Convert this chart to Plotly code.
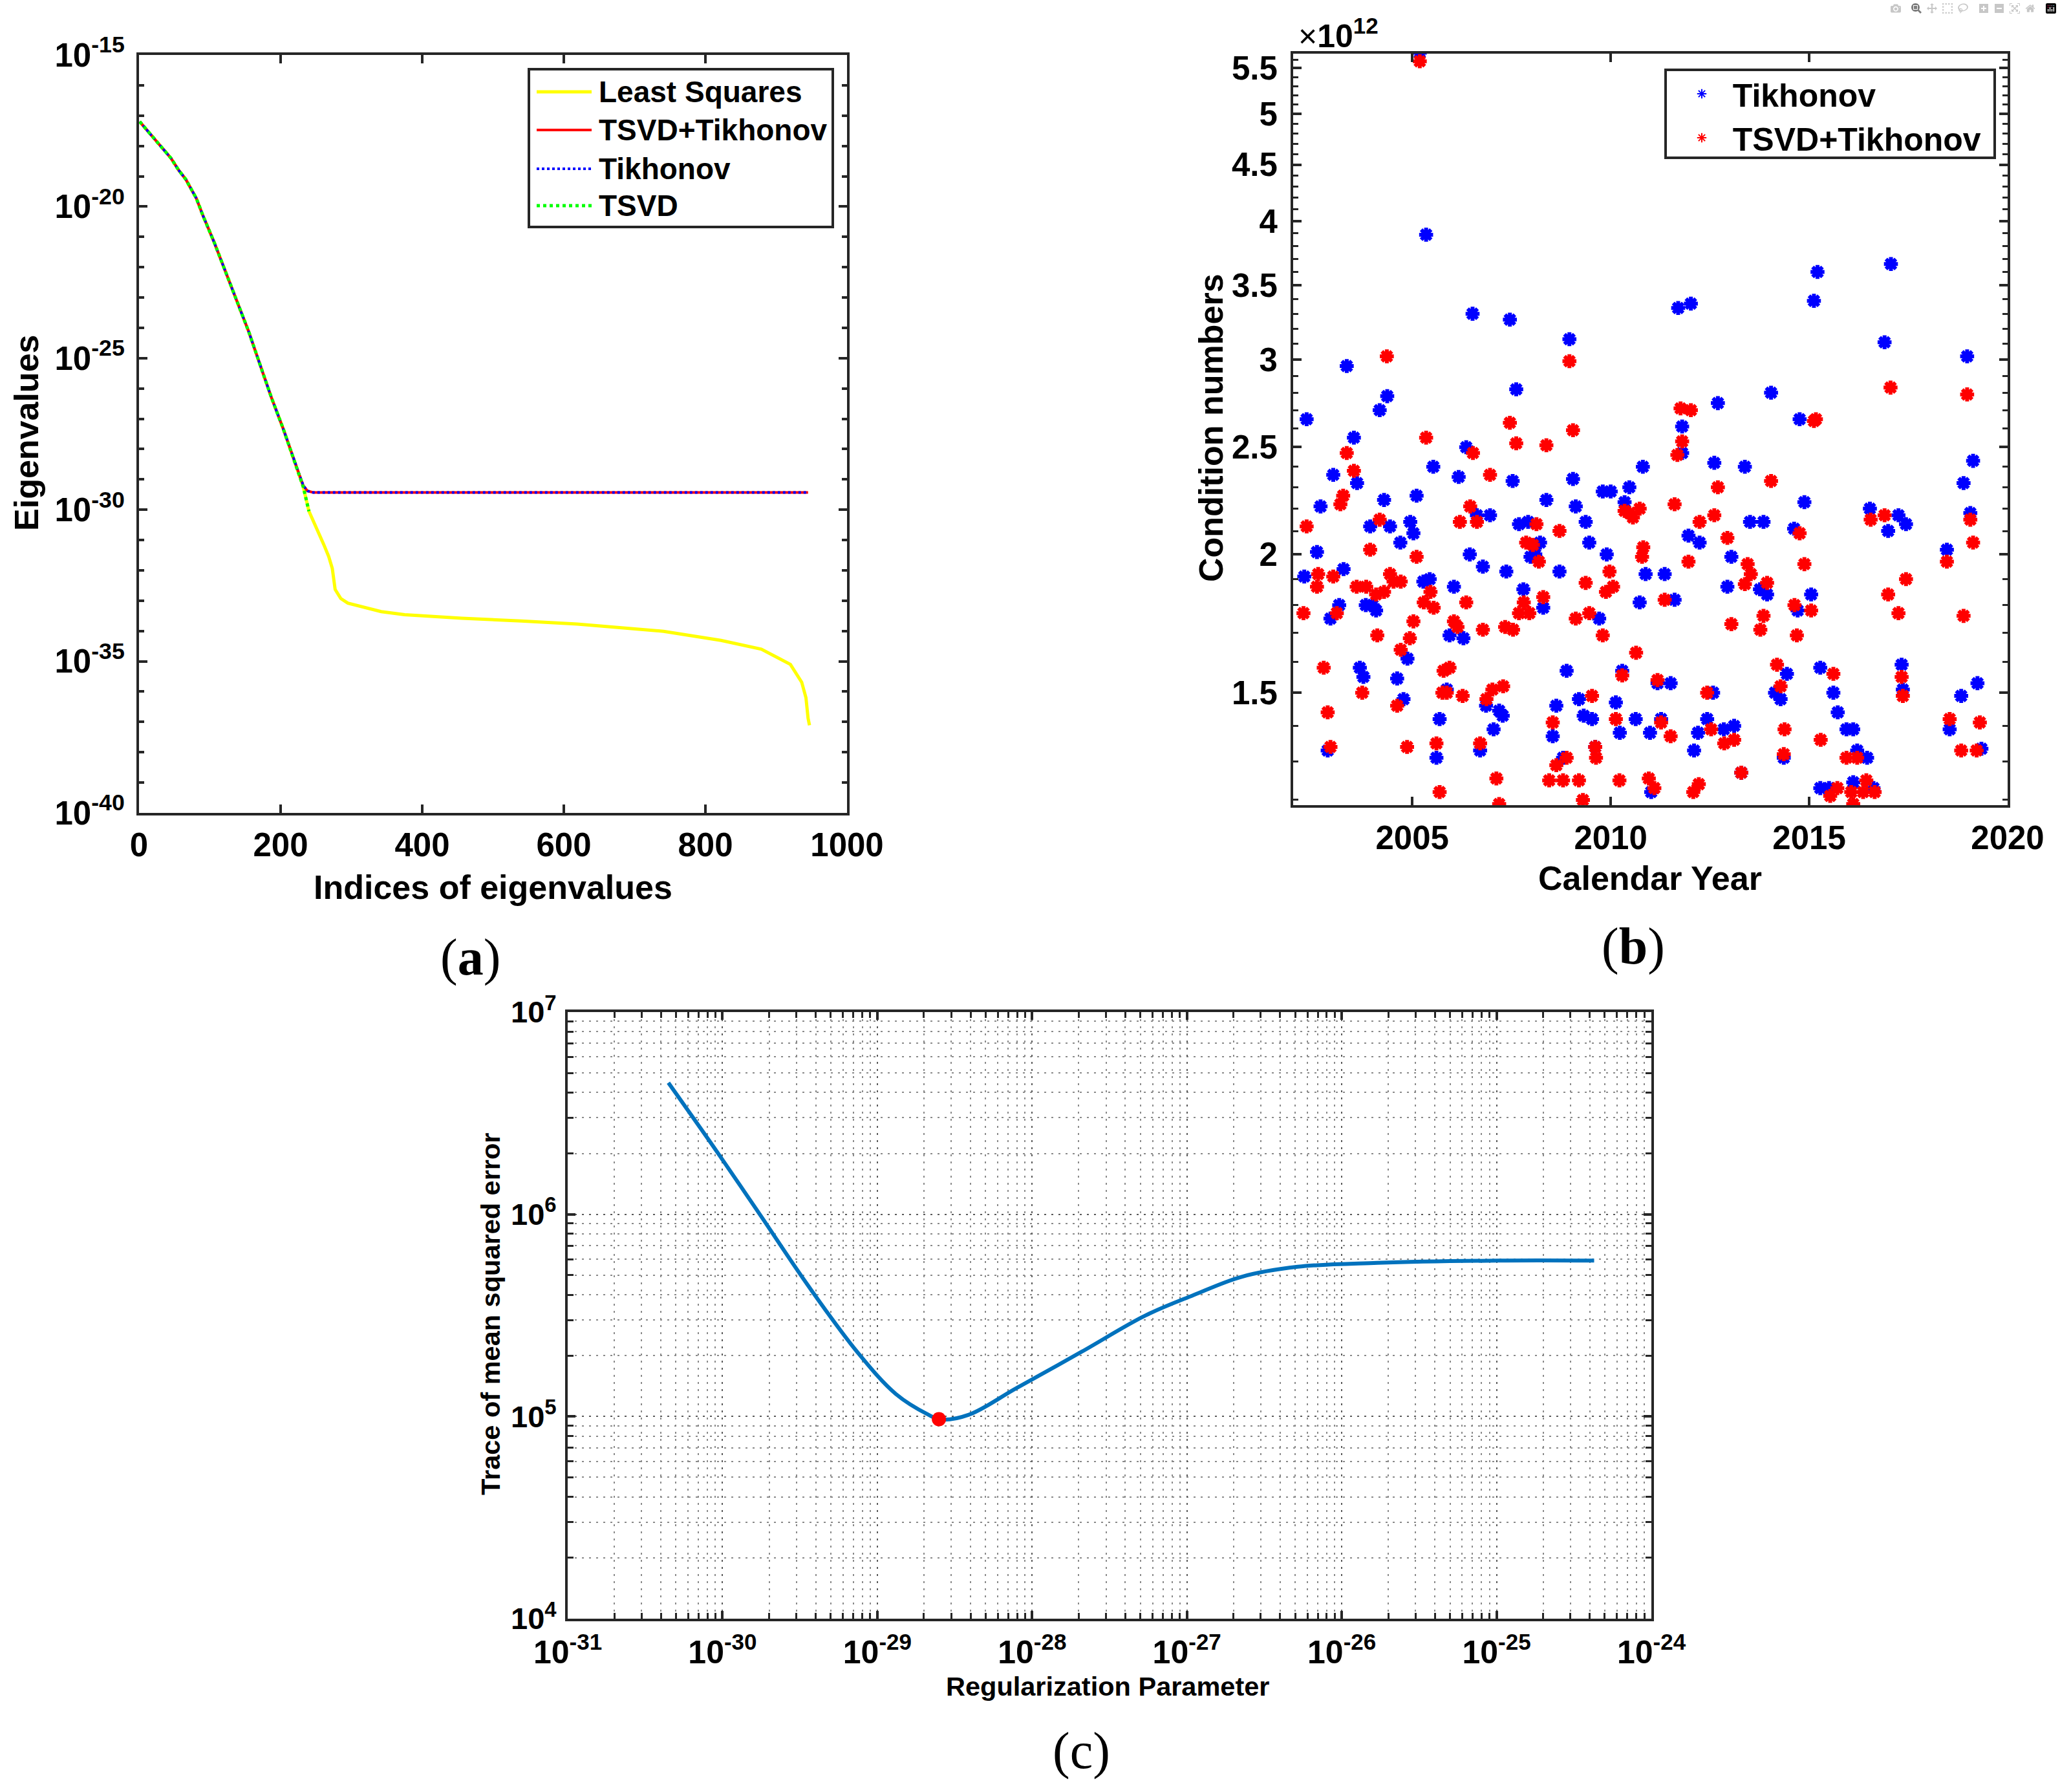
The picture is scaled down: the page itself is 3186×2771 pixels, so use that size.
import plotly.graph_objects as go

W, H = 3186, 2771
SANS = "Liberation Sans, Arial, sans-serif"
SERIF = "Liberation Serif, Times New Roman, serif"
INK = "#262626"

# ---------------- (a) eigenvalues (index, log10 value) ----------------
common_idx = [1, 26, 45, 56, 66, 81, 90, 106, 122, 138, 155, 171, 187, 204, 216, 224]
common_log = [-17.20, -17.88, -18.40, -18.80, -19.10, -19.73, -20.28, -21.17, -22.15,
              -23.14, -24.13, -25.22, -26.30, -27.35, -28.18, -28.68]

# Tikhonov and TSVD+Tikhonov level off
plateau_idx = [232, 238, 246, 945]
plateau_log = [-29.20, -29.38, -29.43, -29.43]

# TSVD stops at the truncation index
tsvd_idx = [232, 240]
tsvd_log = [-29.25, -30.05]

# plain least squares keeps falling
ls_idx = [232, 240, 250, 261, 268, 273, 277, 285, 295, 309, 342, 375, 456, 540,
          619, 741, 822, 879, 920, 936, 942, 945, 947]
ls_log = [-29.25, -30.05, -30.55, -31.15, -31.55, -31.94, -32.63, -32.93, -33.08, -33.16,
          -33.36, -33.46, -33.58, -33.67, -33.77, -34.01, -34.31, -34.60, -35.10, -35.69,
          -36.20, -36.88, -37.11]

# ---------------- (b) condition numbers (x 1e12) ----------------
tik_year = [2005.19, 2005.35, 2006.52, 2007.46, 2008.96, 2003.35, 2004.37, 2004.18, 2002.34, 2007.62,
            2003.53, 2006.36, 2003.01, 2003.61, 2005.53, 2006.17, 2007.53, 2009.05, 2010.81, 2009.80,
            2010.00, 2010.47, 2002.69, 2004.29, 2005.11, 2008.38, 2009.12, 2010.35, 2006.63, 2006.96,
            2009.37, 2003.94, 2004.44, 2004.95, 2005.03, 2007.69, 2007.92, 2004.70, 2002.60, 2008.22,
            2007.98, 2008.10, 2006.45, 2009.46, 2009.90, 2002.28, 2003.27, 2005.28, 2005.44, 2006.78,
            2006.05, 2007.37, 2008.71, 2007.80, 2008.30, 2009.71, 2010.88, 2010.73, 2003.16, 2002.94,
            2003.83, 2004.00, 2004.09, 2005.94, 2006.29, 2004.88, 2003.68, 2003.77, 2004.62, 2005.87,
            2006.86, 2007.19, 2007.28, 2007.05, 2008.89, 2008.63, 2008.54, 2009.20, 2009.32, 2009.53,
            2010.13, 2010.23, 2010.63, 2010.29, 2010.99, 2004.78, 2002.87, 2005.69, 2005.61, 2006.71,
            2008.80, 2009.61, 2011.02,
            2011.70, 2012.02, 2015.21, 2015.12, 2017.06, 2016.90, 2018.98, 2012.70, 2014.04, 2014.76,
            2011.80, 2011.80, 2012.61, 2013.38, 2019.13, 2018.89, 2014.88, 2013.51, 2013.85, 2016.53,
            2017.25, 2017.44, 2016.99, 2019.06, 2011.96, 2012.24, 2013.04, 2014.62, 2018.47, 2011.36,
            2011.61, 2012.94, 2013.76, 2013.94, 2014.71, 2015.05, 2014.44, 2014.14, 2014.28, 2015.28,
            2015.61, 2015.72, 2015.94, 2016.11, 2017.33, 2017.36, 2019.24, 2018.83, 2018.54, 2019.34,
            2011.18, 2011.51, 2012.58, 2011.27, 2012.43, 2012.20, 2012.10, 2012.85, 2013.11, 2013.29,
            2014.36, 2015.28, 2015.50, 2016.21, 2016.46, 2016.11, 2016.62]
tik_cond = [5.68, 3.89, 3.30, 3.26, 3.13, 2.96, 2.78, 2.70, 2.65, 2.82,
            2.55, 2.50, 2.36, 2.32, 2.40, 2.35, 2.33, 2.34, 2.40, 2.28,
            2.28, 2.30, 2.21, 2.24, 2.26, 2.24, 2.21, 2.23, 2.17, 2.17,
            2.14, 2.12, 2.12, 2.14, 2.09, 2.13, 2.14, 2.05, 2.01, 2.05,
            1.99, 2.00, 2.00, 2.05, 2.00, 1.91, 1.94, 1.89, 1.90, 1.95,
            1.87, 1.93, 1.93, 1.86, 1.79, 1.75, 1.92, 1.81, 1.80, 1.75,
            1.80, 1.80, 1.78, 1.69, 1.68, 1.61, 1.58, 1.55, 1.545, 1.51,
            1.46, 1.445, 1.43, 1.39, 1.57, 1.46, 1.37, 1.48, 1.43, 1.42,
            1.47, 1.38, 1.42, 1.57, 1.38, 1.48, 1.33, 1.42, 1.31, 1.33,
            1.31, 1.34, 1.22,
            3.34, 3.37, 3.60, 3.39, 3.66, 3.11, 3.02, 2.74, 2.80, 2.65,
            2.61, 2.47, 2.42, 2.40, 2.43, 2.32, 2.23, 2.14, 2.14, 2.20,
            2.17, 2.13, 2.10, 2.18, 2.08, 2.05, 1.99, 2.11, 2.02, 1.92,
            1.82, 1.87, 1.86, 1.84, 1.78, 1.84, 1.56, 1.50, 1.48, 1.58,
            1.50, 1.44, 1.39, 1.39, 1.59, 1.51, 1.53, 1.49, 1.39, 1.335,
            1.53, 1.53, 1.50, 1.42, 1.42, 1.38, 1.33, 1.39, 1.40, 1.27,
            1.31, 1.23, 1.23, 1.33, 1.31, 1.245, 1.23]

tt_year = [2005.19, 2008.96, 2004.36, 2007.46, 2007.62, 2009.05, 2005.35, 2003.35, 2006.53, 2008.38,
           2003.53, 2006.96, 2003.26, 2003.19, 2006.46, 2010.35, 2010.47, 2010.73, 2010.56, 2006.63,
           2006.20, 2002.34, 2004.18, 2008.13, 2008.71, 2003.94, 2007.87, 2008.04, 2008.19, 2005.11,
           2010.82, 2010.79, 2002.63, 2003.01, 2002.60, 2003.60, 2003.84, 2004.44, 2004.53, 2004.71,
           2004.09, 2004.29, 2005.29, 2005.46, 2005.54, 2006.36, 2007.81, 2007.69, 2007.95, 2008.30,
           2009.37, 2009.88, 2010.06, 2009.97, 2002.26, 2003.10, 2005.03, 2004.12, 2004.94, 2006.05,
           2006.14, 2006.78, 2007.34, 2007.54, 2009.12, 2009.46, 2009.80, 2010.64, 2004.71, 2002.77,
           2003.74, 2005.79, 2005.94, 2005.87, 2005.76, 2006.27, 2006.87, 2007.02, 2007.29, 2008.54,
           2009.53, 2010.13, 2010.29, 2004.62, 2002.87, 2002.94, 2005.61, 2004.87, 2006.71, 2008.63,
           2008.89, 2008.45, 2008.80, 2009.20, 2009.61, 2009.63, 2010.22, 2010.96, 2007.12, 2005.69,
           2007.19, 2009.30,
           2011.10, 2017.05, 2018.98, 2011.76, 2012.02, 2015.17, 2015.12, 2011.80, 2011.68, 2012.70,
           2014.04, 2011.61, 2012.24, 2012.61, 2016.55, 2016.90, 2019.06, 2019.13, 2011.96, 2012.94,
           2014.76, 2014.88, 2018.47, 2013.45, 2013.53, 2013.38, 2011.36, 2013.94, 2013.04, 2013.85,
           2013.77, 2014.63, 2014.69, 2015.05, 2017.44, 2016.99, 2017.25, 2018.89, 2014.19, 2014.28,
           2015.61, 2017.33, 2017.36, 2018.54, 2019.30, 2018.83, 2019.22, 2011.18, 2012.43, 2011.27,
           2011.51, 2012.53, 2012.86, 2013.11, 2013.29, 2012.22, 2012.08, 2014.38, 2014.36, 2015.29,
           2015.53, 2015.71, 2015.94, 2016.21, 2016.06, 2016.11, 2016.44, 2016.36, 2016.65]
tt_cond = [5.58, 2.99, 3.02, 2.63, 2.52, 2.59, 2.55, 2.47, 2.47, 2.51,
           2.38, 2.36, 2.26, 2.22, 2.21, 2.19, 2.18, 2.20, 2.16, 2.14,
           2.14, 2.12, 2.15, 2.13, 2.10, 2.02, 2.05, 2.04, 1.97, 1.99,
           2.03, 1.99, 1.92, 1.91, 1.87, 1.87, 1.87, 1.92, 1.89, 1.89,
           1.84, 1.85, 1.81, 1.85, 1.79, 1.81, 1.81, 1.77, 1.77, 1.83,
           1.885, 1.85, 1.87, 1.93, 1.77, 1.77, 1.74, 1.69, 1.68, 1.74,
           1.72, 1.71, 1.72, 1.71, 1.75, 1.77, 1.69, 1.63, 1.64, 1.58,
           1.50, 1.57, 1.58, 1.50, 1.50, 1.49, 1.48, 1.51, 1.52, 1.41,
           1.49, 1.42, 1.555, 1.46, 1.44, 1.34, 1.35, 1.34, 1.35, 1.29,
           1.31, 1.25, 1.25, 1.25, 1.34, 1.31, 1.25, 1.255, 1.255, 1.22,
           1.19, 1.20,
           1.23, 2.83, 2.79, 2.71, 2.70, 2.65, 2.64, 2.53, 2.46, 2.30,
           2.33, 2.22, 2.14, 2.17, 2.15, 2.17, 2.15, 2.05, 1.97, 2.07,
           2.09, 1.96, 1.97, 1.96, 1.92, 1.88, 1.82, 1.885, 1.73, 1.76,
           1.71, 1.80, 1.69, 1.78, 1.90, 1.84, 1.77, 1.76, 1.59, 1.52,
           1.56, 1.55, 1.49, 1.42, 1.41, 1.33, 1.33, 1.54, 1.50, 1.41,
           1.37, 1.39, 1.35, 1.36, 1.27, 1.24, 1.22, 1.39, 1.32, 1.36,
           1.21, 1.23, 1.31, 1.31, 1.22, 1.19, 1.25, 1.22, 1.22]

# ---------------- (c) trace of MSE vs regularization parameter ----------------
reg_param = [4.47e-31, 9.5e-31, 1.74e-30, 3.55e-30, 7.4e-30, 1.32e-29, 2.14e-29, 2.57e-29, 3.9e-29,
             7.9e-29, 2.09e-28, 5.4e-28, 1.10e-27, 2.24e-27, 5.2e-27, 1.70e-26, 1.02e-25, 4.27e-25]
trace_mse = [4.47e6, 1.97e6, 1.0e6, 4.47e5, 2.09e5, 1.29e5, 1.02e5, 9.66e4, 1.02e5,
             1.38e5, 2.09e5, 3.16e5, 3.98e5, 4.9e5, 5.5e5, 5.75e5, 5.9e5, 5.9e5]
best_param = [2.5e-29]
best_mse = [9.7e4]


def fx(p):
    return p / W


def fy(p):
    return 1 - p / H


def pw(v):
    return [10.0 ** e for e in v]


fig = go.Figure()

# (a)
fig.add_trace(go.Scatter(x=common_idx + ls_idx, y=pw(common_log + ls_log), mode="lines",
                         line=dict(color="#FFFF00", width=5), xaxis="x", yaxis="y", showlegend=False))
fig.add_trace(go.Scatter(x=common_idx + plateau_idx, y=pw(common_log + plateau_log), mode="lines",
                         line=dict(color="#FF0000", width=4), xaxis="x", yaxis="y", showlegend=False))
fig.add_trace(go.Scatter(x=common_idx + plateau_idx, y=pw(common_log + plateau_log), mode="lines",
                         line=dict(color="#0000FF", width=4, dash="dot"), xaxis="x", yaxis="y",
                         showlegend=False))
fig.add_trace(go.Scatter(x=common_idx + tsvd_idx, y=pw(common_log + tsvd_log), mode="lines",
                         line=dict(color="#00FF00", width=5, dash="dot"), xaxis="x", yaxis="y",
                         showlegend=False))

# (b)
for name, xs, ys, col in [("Tikhonov", tik_year, tik_cond, "#0000FF"),
                          ("TSVD+Tikhonov", tt_year, tt_cond, "#FF0000")]:
    fig.add_trace(go.Scatter(x=xs, y=[v * 1e12 for v in ys], mode="markers", name="\u00a0\u00a0" + name,
                             marker=dict(symbol="asterisk", size=18, color=col,
                                         line=dict(color=col, width=6)),
                             xaxis="x2", yaxis="y2", legend="legend2"))

# (c)
fig.add_trace(go.Scatter(x=reg_param, y=trace_mse, mode="lines", line=dict(color="#0072BD", width=6, shape="spline"),
                         xaxis="x3", yaxis="y3", showlegend=False))
fig.add_trace(go.Scatter(x=best_param, y=best_mse, mode="markers", marker=dict(color="#FF0000", size=22),
                         xaxis="x3", yaxis="y3", showlegend=False))

tick_font = dict(family=SANS, size=51, color="black", weight="bold")
axis_base = dict(showline=True, linewidth=4, linecolor=INK, mirror="ticks", ticks="inside",
                 ticklen=13, tickwidth=3.5, tickcolor=INK, showgrid=False, zeroline=False,
                 tickfont=tick_font, automargin=False)
grid_c = dict(showgrid=True, gridcolor="#5a5a5a", gridwidth=2, griddash="3px,8px")
minor_grid_c = dict(showgrid=True, gridcolor="#8a8a8a", gridwidth=2, griddash="3px,8px")
c_font = dict(family=SANS, size=50, color="black", weight="bold")
c_yfont = dict(family=SANS, size=47, color="black", weight="bold")


def sup(e):
    return "10<sup>%d</sup>" % e


a_major = list(range(-40, -14, 5))
fig.update_layout(
    xaxis={**axis_base, "domain": [fx(215), fx(1310)], "range": [0, 1000],
           "tickvals": [0, 200, 400, 600, 800, 1000], "anchor": "y", "ticklabelstandoff": 2},
    yaxis={**axis_base, "domain": [fy(1257), fy(85)], "type": "log", "range": [-40, -15], "anchor": "x",
           "tickvals": pw(a_major), "ticktext": [sup(e) for e in a_major], "ticklabelstandoff": 8,
           "minor": dict(tickmode="array", tickvals=pw([e for e in range(-40, -15) if e % 5]),
                         ticks="inside", ticklen=8, tickwidth=3.5, tickcolor=INK)},
    xaxis2={**axis_base, "domain": [fx(2000), fx(3105)], "range": [2002, 2020],
            "tickvals": [2005, 2010, 2015, 2020], "anchor": "y2", "ticklabelstandoff": 3},
    yaxis2={**axis_base, "domain": [fy(1245), fy(83)], "type": "log", "range": [12.0745, 12.7535],
            "anchor": "x2", "tickvals": [v * 1e11 for v in range(15, 56, 5)],
            "ticktext": ["1.5", "2", "2.5", "3", "3.5", "4", "4.5", "5", "5.5"], "ticklabelstandoff": 10,
            "minor": dict(tickmode="array", tickvals=[v * 1e11 for v in range(12, 58) if v % 5],
                          ticks="inside", ticklen=8, tickwidth=3, tickcolor=INK)},
    xaxis3={**axis_base, **grid_c, "domain": [fx(878), fx(2554)], "type": "log", "range": [-31, -24],
            "anchor": "y3", "tickvals": pw(range(-31, -23)), "ticktext": [sup(e) for e in range(-31, -23)],
            "tickfont": c_font, "ticklabelstandoff": 5, "ticklen": 12,
            "minor": dict(minor_grid_c, tickmode="array",
                          tickvals=[k * 10.0 ** e for e in range(-31, -24) for k in range(2, 10)],
                          ticks="inside", ticklen=9, tickwidth=3, tickcolor=INK)},
    yaxis3={**axis_base, **grid_c, "domain": [fy(2503), fy(1565)], "type": "log", "range": [4, 7],
            "anchor": "x3", "tickvals": pw(range(4, 8)), "ticktext": [sup(e) for e in range(4, 8)],
            "tickfont": c_yfont, "ticklabelstandoff": 4, "ticklen": 12,
            "minor": dict(minor_grid_c, tickmode="array",
                          tickvals=[k * 10.0 ** e for e in range(4, 7) for k in range(2, 10)],
                          ticks="inside", ticklen=9, tickwidth=3, tickcolor=INK)},
    legend2=dict(x=fx(2612), y=fy(106), xanchor="left", yanchor="top", bgcolor="rgba(0,0,0,0)",
                 borderwidth=0, font=dict(family=SANS, size=50, color="black", weight="bold"),
                 itemsizing="constant"),
    width=W, height=H, margin=dict(l=0, r=0, t=0, b=0),
    plot_bgcolor="white", paper_bgcolor="white",
)

# legend of (a), drawn by hand so the line samples are as long as in the original
shapes = [dict(type="rect", xref="paper", yref="paper", x0=fx(818), x1=fx(1288), y0=fy(351), y1=fy(107),
               line=dict(color=INK, width=4), fillcolor="white", layer="above"),
          dict(type="rect", xref="paper", yref="paper", x0=fx(2576), x1=fx(3085), y0=fy(244), y1=fy(108),
               line=dict(color=INK, width=4), layer="above")]
legend_a = [("Least Squares", "#FFFF00", "solid", 5, 142),
            ("TSVD+Tikhonov", "#FF0000", "solid", 4, 201),
            ("Tikhonov", "#0000FF", "dot", 4, 261),
            ("TSVD", "#00FF00", "dot", 5, 318)]
annotations = []
for label, col, dash, lw, yy in legend_a:
    shapes.append(dict(type="line", xref="paper", yref="paper", x0=fx(830), x1=fx(915), y0=fy(yy), y1=fy(yy),
                       line=dict(color=col, width=lw, dash=dash), layer="above"))
    annotations.append(dict(text=label, x=fx(924), y=fy(yy), xref="paper", yref="paper", showarrow=False,
                            xanchor="left", yanchor="middle",
                            font=dict(family=SANS, size=46, color="black", weight="bold")))


def note(text, x, y, size, family=SANS, weight="bold", angle=0, xanchor="center"):
    return dict(text=text, x=fx(x), y=fy(y), xref="paper", yref="paper", showarrow=False,
                xanchor=xanchor, yanchor="middle", textangle=angle,
                font=dict(family=family, size=size, color="black", weight=weight))


annotations += [
    note("Indices of eigenvalues", 762, 1372, 52),
    note("Eigenvalues", 41, 670, 52, angle=-90),
    note("Calendar Year", 2552, 1358, 52),
    note("Condition numbers", 1873, 662, 52, angle=-90),
    note("\u00d7<b>10<sup>12</sup></b>", 2006, 52, 50, weight="normal", xanchor="left"),
    note("Regularization Parameter", 1713, 2607, 41.5),
    note("Trace of mean squared error", 758, 2032, 41.5, angle=-90),
    note("(<b>a</b>)", 727, 1480, 80, family=SERIF, weight="normal"),
    note("(<b>b</b>)", 2526, 1463, 80, family=SERIF, weight="normal"),
    note("(c)", 1672, 2707, 80, family=SERIF, weight="normal"),
]
fig.update_layout(shapes=shapes, annotations=annotations)

fig.write_html("out.html", post_script="document.body.style.margin='0';")
